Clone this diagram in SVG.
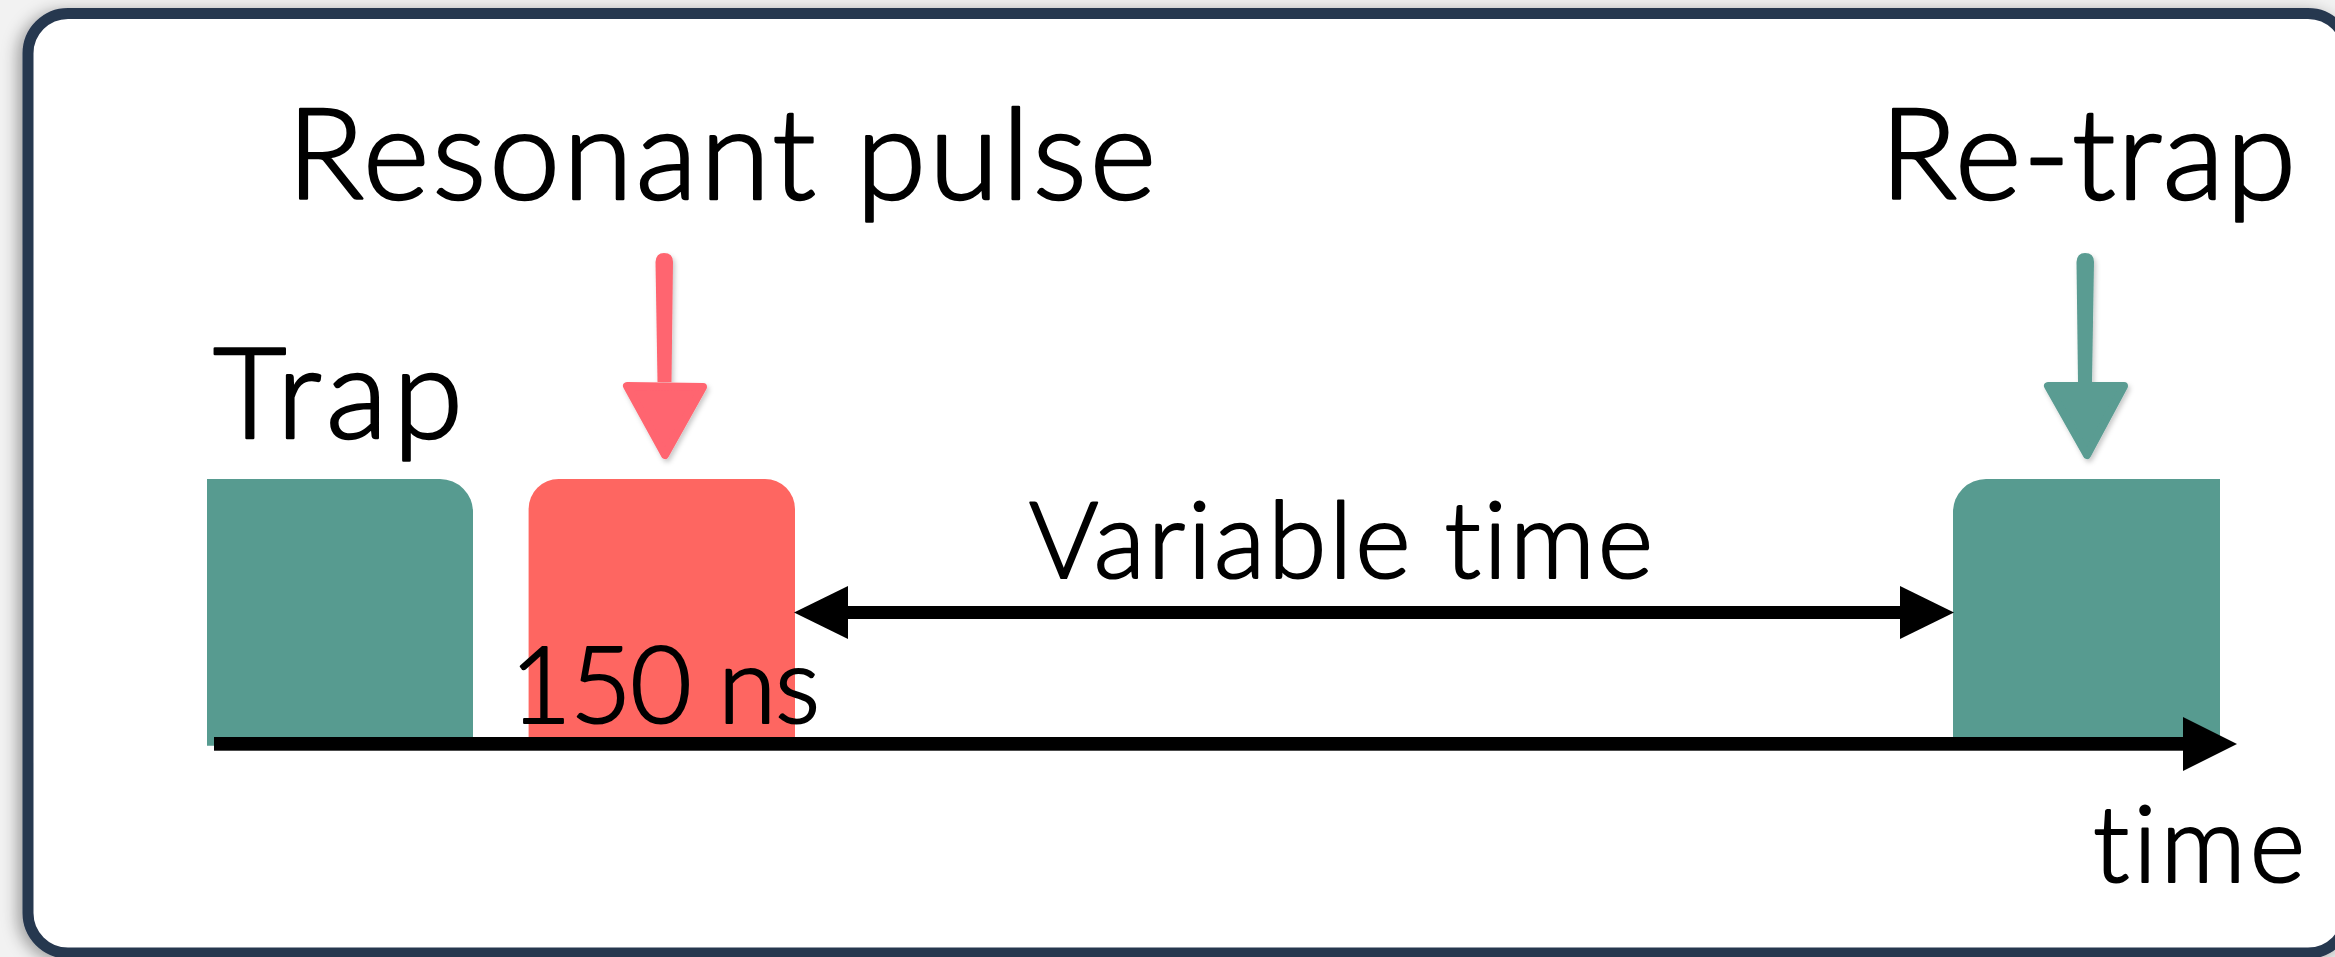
<svg xmlns="http://www.w3.org/2000/svg" width="2335" height="957" viewBox="0 0 2335 957">
  <defs>
    <filter id="frameShadow" x="-5%" y="-5%" width="110%" height="110%">
      <feDropShadow dx="-5" dy="3" stdDeviation="8" flood-color="#000" flood-opacity="0.35"/>
    </filter>
    <filter id="brushShadow" x="-30%" y="-30%" width="160%" height="160%">
      <feDropShadow dx="2" dy="3" stdDeviation="2.5" flood-color="#000" flood-opacity="0.22"/>
    </filter>
  </defs>
  <style>
    .lbl { font-family: "Lato", "Noto Sans", "Liberation Sans", sans-serif; font-weight: 300; fill: #000; stroke: #000; stroke-linejoin: round; font-variant-ligatures: none; font-feature-settings: "liga" 0, "clig" 0; }
    .big { font-size: 127px; stroke-width: 2.6px; }
    .small { font-size: 106px; stroke-width: 2.2px; }
    .teal { fill: #579b90; }
    .red { fill: #fe6661; }
    .blk { fill: #000; }
  </style>

  <rect x="0" y="0" width="2335" height="957" fill="#f2f2f2"/>

  <g id="frame">
    <rect x="28" y="13.5" width="2320" height="939.5" rx="40" ry="40" fill="#ffffff" stroke="#27374f" stroke-width="11" filter="url(#frameShadow)"/>
  </g>

  <g id="trap">
    <path class="teal" d="M207,479 H440 A33,33 0 0 1 473,512 V745.7 H207 Z"/>
    <text class="lbl big" x="213" y="438" textLength="250">Trap</text>
  </g>

  <g id="resonant-pulse">
    <path class="red" d="M528.6,509 A30,30 0 0 1 558.6,479 H765 A30,30 0 0 1 795,509 V744 H528.6 Z"/>
    <text class="lbl big" x="287" y="199" textLength="869">Resonant pulse</text>
    <text class="lbl small" x="510" y="723" textLength="310">150 ns</text>
  </g>

  <g id="re-trap">
    <path class="teal" d="M1953,512 A33,33 0 0 1 1986,479 H2220 V744 H1953 Z"/>
    <text class="lbl big" x="1880" y="199" textLength="416">Re-trap</text>
  </g>

  <g id="variable-time-label">
    <text class="lbl small" x="1029" y="578" textLength="624">Variable time</text>
  </g>

  <g id="time-label">
    <text class="lbl small" x="2093" y="882" textLength="212">time</text>
  </g>

  <g id="connectors">
    <!-- time axis -->
    <rect class="blk" x="214" y="737" width="1970" height="13.7"/>
    <polygon class="blk" points="2183,717 2237,744 2183,771"/>
    <!-- variable time double arrow -->
    <rect class="blk" x="847" y="606" width="1054" height="13"/>
    <polygon class="blk" points="794,612.5 848,586 848,639"/>
    <polygon class="blk" points="1954,612.5 1900,586 1900,639"/>
    <!-- brush pointer arrows -->
    <g filter="url(#brushShadow)">
      <path d="M655.5,262 Q656,253 664,253 Q673,253 673,262 L671.5,382 L657.5,382 Z" fill="#ff6570"/>
      <path d="M627,386 L703,387 L665,455 Z" fill="#ff6570" stroke="#ff6570" stroke-width="8" stroke-linejoin="round"/>
    </g>
    <g filter="url(#brushShadow)">
      <path d="M2076.5,262 Q2077,253 2085,253 Q2094,253 2094,262 L2092,382 L2078,382 Z" fill="#5a9c92"/>
      <path d="M2048,386 L2124,386 L2087,455 Z" fill="#5a9c92" stroke="#5a9c92" stroke-width="8" stroke-linejoin="round"/>
    </g>
  </g>
</svg>
